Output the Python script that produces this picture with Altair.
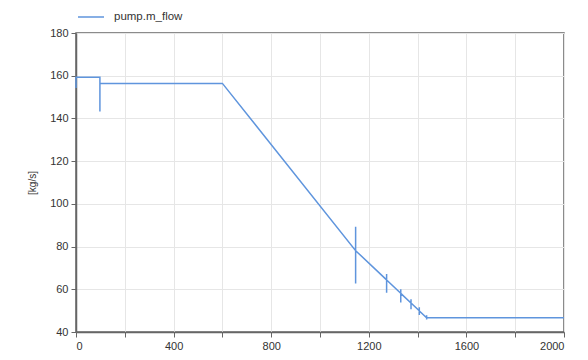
import altair as alt
import pandas as pd

# time [s] and mass flow [kg/s] polyline points (vertical spikes included)
t_vals = [0, 0, 98, 98, 98, 600,
          1146, 1146, 1146, 1146,
          1273, 1273, 1273, 1273,
          1331, 1331, 1331, 1331,
          1373, 1373, 1373, 1373,
          1407, 1407, 1407, 1407,
          1437, 1437, 1437, 1437,
          2000]
flow_vals = [154.2, 159.3, 159.3, 143.2, 156.4, 156.4,
             78.1, 89.3, 62.7, 78.1,
             64.4, 67.2, 58.4, 64.4,
             58.1, 60.0, 53.8, 58.1,
             53.6, 55.3, 50.6, 53.6,
             49.9, 51.6, 48.0, 49.9,
             46.7, 47.8, 45.9, 46.7,
             46.7]
series_name = "pump.m_flow"
line_color = "#5f95dd"

df = pd.DataFrame({
    "t": t_vals,
    "flow": flow_vals,
    "idx": list(range(len(t_vals))),
    "series": [series_name] * len(t_vals),
})

x_ticks = list(range(0, 2001, 200))
y_ticks = list(range(40, 181, 20))

chart = alt.Chart(df).mark_line(strokeWidth=1.5).encode(
    x=alt.X("t:Q", scale=alt.Scale(domain=[0, 2000], nice=False),
            axis=alt.Axis(values=x_ticks, title=None, format="d",
                          labelExpr="datum.value % 400 == 0 ? datum.label : ''")),
    y=alt.Y("flow:Q", scale=alt.Scale(domain=[40, 180], nice=False),
            axis=alt.Axis(values=y_ticks, title="[kg/s]", format="d")),
    order="idx:Q",
    color=alt.Color("series:N", scale=alt.Scale(range=[line_color]),
                    legend=alt.Legend(title=None, orient="none", legendX=1, legendY=-30,
                                      symbolType="stroke", symbolSize=676,
                                      symbolStrokeWidth=1.5, labelOffset=9,
                                      labelFontSize=11.5, labelColor="#333",
                                      labelFont="Liberation Sans", padding=0)),
).properties(
    width=488, height=299,
    autosize=alt.AutoSizeParams(type="none"),
    padding={"left": 76, "top": 33, "right": 24, "bottom": 28},
).configure_view(
    stroke="#666", strokeWidth=1.5
).configure_axis(
    domainColor="#666", domainWidth=1.5,
    tickColor="#666", tickSize=5, tickWidth=1,
    gridColor="#e6e6e6", gridWidth=1,
    labelFont="Liberation Sans", labelFontSize=11, labelColor="#333",
    titleFont="Liberation Sans", titleFontSize=10, titleFontWeight="normal",
    titleColor="#333", labelPadding=3,
).configure_axisY(
    titlePadding=12
)

chart.save("out.html", embed_options={"renderer": "svg", "actions": False})
